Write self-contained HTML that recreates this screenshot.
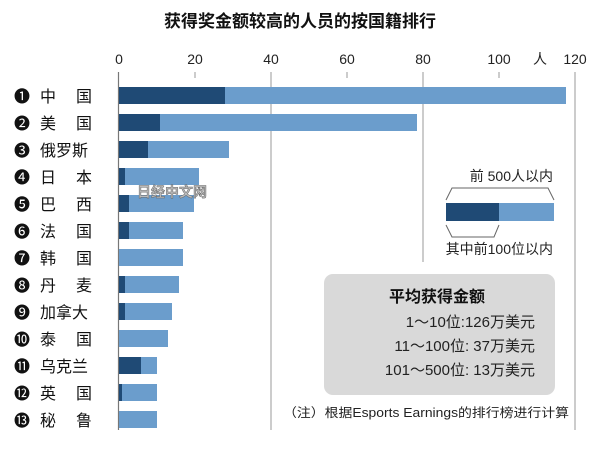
<!DOCTYPE html>
<html><head><meta charset="utf-8"><style>
body{margin:0;background:#fff;}
svg text{font-family:"Liberation Sans","Noto Sans CJK SC",sans-serif;}
</style></head><body>
<svg width="600" height="452" viewBox="0 0 600 452" xmlns="http://www.w3.org/2000/svg">
<rect width="600" height="452" fill="#fff"/>
<text x="300" y="27" text-anchor="middle" font-size="17" font-weight="bold" fill="#111">获得奖金额较高的人员的按国籍排行</text>
<g font-size="14" fill="#222" text-anchor="middle">
<text x="119" y="64">0</text><text x="195" y="64">20</text><text x="271" y="64">40</text>
<text x="347" y="64">60</text><text x="423" y="64">80</text><text x="499" y="64">100</text>
<text x="575" y="64">120</text><text x="540" y="64">人</text>
</g>
<g stroke="#aaa" stroke-width="1.2">
<line x1="195" y1="72" x2="195" y2="78"/>
<line x1="271" y1="72" x2="271" y2="430"/>
<line x1="347" y1="72" x2="347" y2="78"/>
<line x1="423" y1="72" x2="423" y2="262"/>
<line x1="499" y1="72" x2="499" y2="78"/>
<line x1="575" y1="72" x2="575" y2="430"/>
</g>
<line x1="118.5" y1="72" x2="118.5" y2="430" stroke="#777" stroke-width="1.2"/>
<g id="bars">
<rect x="119" y="87" width="447" height="17" fill="#6b9dcc"/><rect x="119" y="87" width="106" height="17" fill="#1f4a75"/>
<rect x="119" y="114" width="298" height="17" fill="#6b9dcc"/><rect x="119" y="114" width="41" height="17" fill="#1f4a75"/>
<rect x="119" y="141" width="110" height="17" fill="#6b9dcc"/><rect x="119" y="141" width="29" height="17" fill="#1f4a75"/>
<rect x="119" y="168" width="80" height="17" fill="#6b9dcc"/><rect x="119" y="168" width="6" height="17" fill="#1f4a75"/>
<rect x="119" y="195" width="75" height="17" fill="#6b9dcc"/><rect x="119" y="195" width="10" height="17" fill="#1f4a75"/>
<rect x="119" y="222" width="64" height="17" fill="#6b9dcc"/><rect x="119" y="222" width="10" height="17" fill="#1f4a75"/>
<rect x="119" y="249" width="64" height="17" fill="#6b9dcc"/>
<rect x="119" y="276" width="60" height="17" fill="#6b9dcc"/><rect x="119" y="276" width="6" height="17" fill="#1f4a75"/>
<rect x="119" y="303" width="53" height="17" fill="#6b9dcc"/><rect x="119" y="303" width="6" height="17" fill="#1f4a75"/>
<rect x="119" y="330" width="49" height="17" fill="#6b9dcc"/>
<rect x="119" y="357" width="38" height="17" fill="#6b9dcc"/><rect x="119" y="357" width="22" height="17" fill="#1f4a75"/>
<rect x="119" y="384" width="38" height="17" fill="#6b9dcc"/><rect x="119" y="384" width="3" height="17" fill="#1f4a75"/>
<rect x="119" y="411" width="38" height="17" fill="#6b9dcc"/>
</g>
<g font-size="16" fill="#111">
<text x="14" y="102">❶</text><text x="40" y="102">中</text><text x="76" y="102">国</text>
<text x="14" y="129">❷</text><text x="40" y="129">美</text><text x="76" y="129">国</text>
<text x="14" y="156">❸</text><text x="40" y="156">俄罗斯</text>
<text x="14" y="183">❹</text><text x="40" y="183">日</text><text x="76" y="183">本</text>
<text x="14" y="210">❺</text><text x="40" y="210">巴</text><text x="76" y="210">西</text>
<text x="14" y="237">❻</text><text x="40" y="237">法</text><text x="76" y="237">国</text>
<text x="14" y="264">❼</text><text x="40" y="264">韩</text><text x="76" y="264">国</text>
<text x="14" y="291">❽</text><text x="40" y="291">丹</text><text x="76" y="291">麦</text>
<text x="14" y="318">❾</text><text x="40" y="318">加拿大</text>
<text x="14" y="345">❿</text><text x="40" y="345">泰</text><text x="76" y="345">国</text>
<text x="14" y="372">⓫</text><text x="40" y="372">乌克兰</text>
<text x="14" y="399">⓬</text><text x="40" y="399">英</text><text x="76" y="399">国</text>
<text x="14" y="426">⓭</text><text x="40" y="426">秘</text><text x="76" y="426">鲁</text>
</g>
<text x="137" y="197" font-size="14" font-weight="bold" fill="#bbb" stroke="#666" stroke-width="0.5">日经中文网</text>
<text x="553" y="181" text-anchor="end" font-size="14" fill="#222">前 500人以内</text>
<path d="M446 200 L452 188 L548 188 L554 200" fill="none" stroke="#666"/>
<rect x="446" y="203" width="108" height="18" fill="#6b9dcc"/>
<rect x="446" y="203" width="53" height="18" fill="#1f4a75"/>
<path d="M446 225 L452 237 L494 237 L499 225" fill="none" stroke="#666"/>
<text x="553" y="254" text-anchor="end" font-size="14" fill="#222">其中前100位以内</text>
<rect x="324" y="274" width="231" height="121" rx="9" fill="#d9d9d9"/>
<text x="437" y="302" text-anchor="middle" font-size="16" font-weight="bold" fill="#111">平均获得金额</text>
<g font-size="15" fill="#222" text-anchor="end">
<text x="535" y="327">1～10位:126万美元</text>
<text x="535" y="351">11～100位:  37万美元</text>
<text x="535" y="375">101～500位:  13万美元</text>
</g>
<text x="569" y="417" text-anchor="end" font-size="12.5" fill="#222" textLength="286" lengthAdjust="spacingAndGlyphs">（注）根据Esports Earnings的排行榜进行计算</text>
</svg>
</body></html>
